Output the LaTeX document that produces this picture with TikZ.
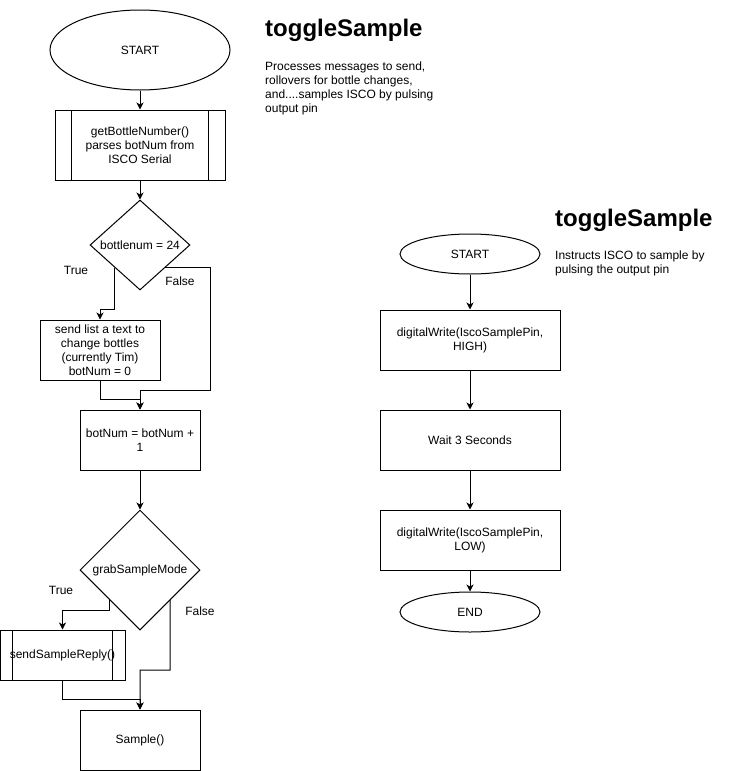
\documentclass[tikz,border=0pt]{standalone}
\usepackage{fontspec}
\setmainfont{Liberation Sans}
\usetikzlibrary{shapes.geometric,arrows.meta,calc}
\begin{document}
\begin{tikzpicture}[x=1pt,y=-1pt,
  base/.style={font=\fontsize{12}{14}\selectfont, line width=1pt, inner sep=1pt, align=center},
  proc/.style={base, draw, rectangle},
  term/.style={base, draw, ellipse},
  dec/.style={base, draw, diamond, inner sep=0pt},
  lbl/.style={font=\fontsize{12}{14}\selectfont, inner sep=0pt},
  head/.style={anchor=base west, inner sep=0pt, font=\fontsize{24}{28}\selectfont\bfseries},
  desc/.style={anchor=base west, inner sep=0pt, font=\fontsize{12}{14}\selectfont},
  flow/.style={line width=1pt, -{Stealth[length=7pt,width=7pt,inset=2pt]}},
  seg/.style={line width=1pt},
]
\useasboundingbox (0,0) rectangle (741,771);

% ---------- left flow ----------
\node[term, minimum width=180pt, minimum height=80pt] (s1) at (140,50) {START};
\node[proc, minimum width=170pt, minimum height=70pt] (gb) at (140,145) {getBottleNumber()\\parses botNum from\\ISCO Serial};
\draw[seg] ([xshift=17pt]gb.north west) -- ([xshift=17pt]gb.south west);
\draw[seg] ([xshift=-17pt]gb.north east) -- ([xshift=-17pt]gb.south east);
\node[dec, minimum width=100pt, minimum height=90pt] (d1) at (140,245) {\makebox[0pt]{bottlenum = 24}};
\node[proc, minimum width=120pt, minimum height=60pt] (sl) at (100,350) {send list a text to\\change bottles\\(currently Tim)\\botNum = 0};
\node[proc, minimum width=120pt, minimum height=60pt] (bn) at (140,440) {botNum = botNum +\\1};
\node[dec, minimum width=120pt, minimum height=120pt] (d2) at (140,570) {\makebox[0pt]{grabSampleMode}};
\node[proc, minimum width=125pt, minimum height=50pt] (sr) at (62.5,655) {sendSampleReply()};
\draw[seg] ([xshift=13pt]sr.north west) -- ([xshift=13pt]sr.south west);
\draw[seg] ([xshift=-13pt]sr.north east) -- ([xshift=-13pt]sr.south east);
\node[proc, minimum width=120pt, minimum height=60pt] (sm) at (140,740) {Sample()};

\coordinate (d1l) at ($(d1.west)!0.5!(d1.south)$);
\coordinate (d1r) at ($(d1.east)!0.5!(d1.south)$);
\coordinate (d2l) at ($(d2.west)!0.5!(d2.south)$);
\coordinate (d2r) at ($(d2.east)!0.5!(d2.south)$);
\coordinate (f1) at (210,390);
\coordinate (f2) at (170,670);

\draw[flow] (s1.south) -- (gb.north);
\draw[flow] (gb.south) -- (d1.north);
\draw[flow] (d1l) -- ++(0,42) -| (sl.north);
\draw[flow] (d1r) -| (f1) -| (bn.north);
\draw[flow] (sl.south) |- ($(bn.north)+(0,-10)$) -- (bn.north);
\draw[flow] (bn.south) -- (d2.north);
\draw[flow] (d2l) -- ++(0,10) -| (sr.north);
\draw[flow] (d2r) -- (f2) -| (sm.north);
\draw[flow] (sr.south) |- ($(sm.north)+(0,-10)$) -- (sm.north);

\node[lbl] (t1) at (76,270.5) {True};
\node[lbl] (fl1) at (180,281.5) {False};
\node[lbl] (t2) at (61,590.5) {True};
\node[lbl] (fl2) at (200,611.5) {False};

\node[head] (h1) at (265,36.5) {toggleSample};
\node[desc] (p1) at (265,70) {\begin{tabular}[t]{@{}l@{}}Processes messages to send,\\rollovers for bottle changes,\\and....samples ISCO by pulsing\\output pin\end{tabular}};

% ---------- right flow ----------
\node[term, minimum width=140pt, minimum height=40pt] (s2) at (470,254) {START};
\node[proc, minimum width=180pt, minimum height=60pt] (hi) at (470,340) {digitalWrite(IscoSamplePin,\\HIGH)};
\node[proc, minimum width=180pt, minimum height=60pt] (w3) at (470,440) {Wait 3 Seconds};
\node[proc, minimum width=180pt, minimum height=60pt] (lo) at (470,540) {digitalWrite(IscoSamplePin,\\LOW)};
\node[term, minimum width=140pt, minimum height=40pt] (en) at (470,612) {END};

\draw[flow] (s2.south) -- (hi.north);
\draw[flow] (hi.south) -- (w3.north);
\draw[flow] (w3.south) -- (lo.north);
\draw[flow] (lo.south) -- (en.north);

\node[head] (h2) at (555,226.5) {toggleSample};
\node[desc] (p2) at (555,259.5) {\begin{tabular}[t]{@{}l@{}}Instructs ISCO to sample by\\pulsing the output pin\end{tabular}};
\end{tikzpicture}
\end{document}
